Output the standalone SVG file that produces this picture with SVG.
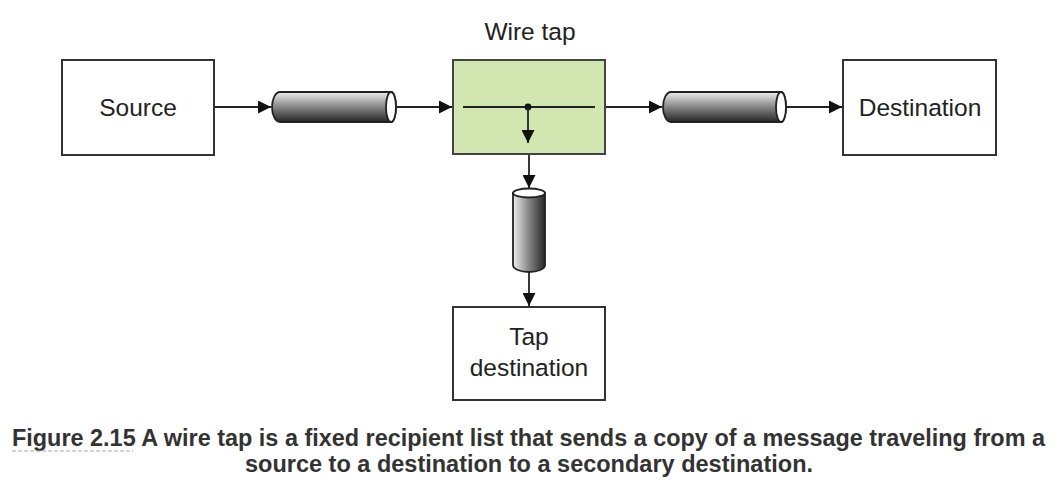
<svg xmlns="http://www.w3.org/2000/svg" width="1061" height="490" viewBox="0 0 1061 490">
<style>
.box{fill:#fff;stroke:#333;stroke-width:2}
.tap{fill:#d1e6b1;stroke:#444;stroke-width:2}
.lbl{font-family:"Liberation Sans",Arial,sans-serif;font-size:24.5px;fill:#222;text-anchor:middle}
.cap{font-family:"Liberation Sans",Arial,sans-serif;font-size:23.5px;font-weight:bold;fill:#333}
.ln{stroke:#222;stroke-width:1.8;fill:none}
.cyl{stroke:#222;stroke-width:1.8}
</style>
<defs>
<marker id="ah2" viewBox="0 0 10 10" refX="10" refY="5" markerWidth="20" markerHeight="13" markerUnits="userSpaceOnUse" orient="auto"><path d="M0,0 L10,5 L0,10 z" fill="#111"/></marker>
<linearGradient id="gh" x1="0" y1="0" x2="0" y2="1">
<stop offset="0" stop-color="#eeeeee"/><stop offset="0.45" stop-color="#8f8f8f"/><stop offset="1" stop-color="#262626"/>
</linearGradient>
<linearGradient id="gv" x1="0" y1="0" x2="1" y2="0">
<stop offset="0" stop-color="#eeeeee"/><stop offset="0.45" stop-color="#8f8f8f"/><stop offset="1" stop-color="#262626"/>
</linearGradient>
</defs>

<g id="connectors">
<line class="ln" x1="214" y1="107" x2="271" y2="107" marker-end="url(#ah2)"/>
<line class="ln" x1="395" y1="107" x2="452" y2="107" marker-end="url(#ah2)"/>
<line class="ln" x1="605" y1="107" x2="662" y2="107" marker-end="url(#ah2)"/>
<line class="ln" x1="785" y1="107" x2="842" y2="107" marker-end="url(#ah2)"/>
<line class="ln" x1="529" y1="155" x2="529" y2="188" marker-end="url(#ah2)"/>
<line class="ln" x1="529" y1="272" x2="529" y2="306" marker-end="url(#ah2)"/>
</g>

<g id="source">
<rect class="box" x="62" y="60" width="152" height="95"/>
<text class="lbl" x="138" y="116">Source</text>
</g>

<g id="wiretap">
<text class="lbl" x="530" y="40">Wire tap</text>
<rect class="tap" x="453" y="60" width="152" height="94"/>
<line class="ln" x1="463" y1="107" x2="595" y2="107"/>
<circle cx="528" cy="107" r="3.4" fill="#111"/>
<line class="ln" x1="528" y1="107" x2="528" y2="143" marker-end="url(#ah2)"/>
</g>

<g id="destination">
<rect class="box" x="843" y="60" width="153" height="95"/>
<text class="lbl" x="920" y="116">Destination</text>
</g>

<g id="tapdestination">
<rect class="box" x="453" y="307" width="152" height="93"/>
<text class="lbl" x="529" y="345">Tap</text>
<text class="lbl" x="529" y="376">destination</text>
</g>

<g id="channel1">
<path class="cyl" d="M280,92 L391,92 A5,15 0 0 1 391,122 L280,122 A8,15 0 0 1 280,92 z" fill="url(#gh)"/>
<ellipse class="cyl" cx="391" cy="107" rx="5" ry="15" fill="#fff"/>
</g>

<g id="channel2">
<path class="cyl" d="M671,92 L781,92 A5,15 0 0 1 781,122 L671,122 A8,15 0 0 1 671,92 z" fill="url(#gh)"/>
<ellipse class="cyl" cx="781" cy="107" rx="5" ry="15" fill="#fff"/>
</g>

<g id="channel3">
<path class="cyl" d="M513,193 L545,193 L545,265 A16,7 0 0 1 513,265 z" fill="url(#gv)"/>
<ellipse class="cyl" cx="529" cy="193" rx="16" ry="4.5" fill="#fff"/>
</g>

<g id="caption">
<text class="cap" x="12" y="446" textLength="1033" lengthAdjust="spacingAndGlyphs">Figure 2.15 A wire tap is a fixed recipient list that sends a copy of a message traveling from a</text>
<text class="cap" x="529" y="472" text-anchor="middle">source to a destination to a secondary destination.</text>
<line x1="12" y1="451" x2="133" y2="451" stroke="#aaa" stroke-width="1.2" stroke-dasharray="4,2"/>
</g>
</svg>
